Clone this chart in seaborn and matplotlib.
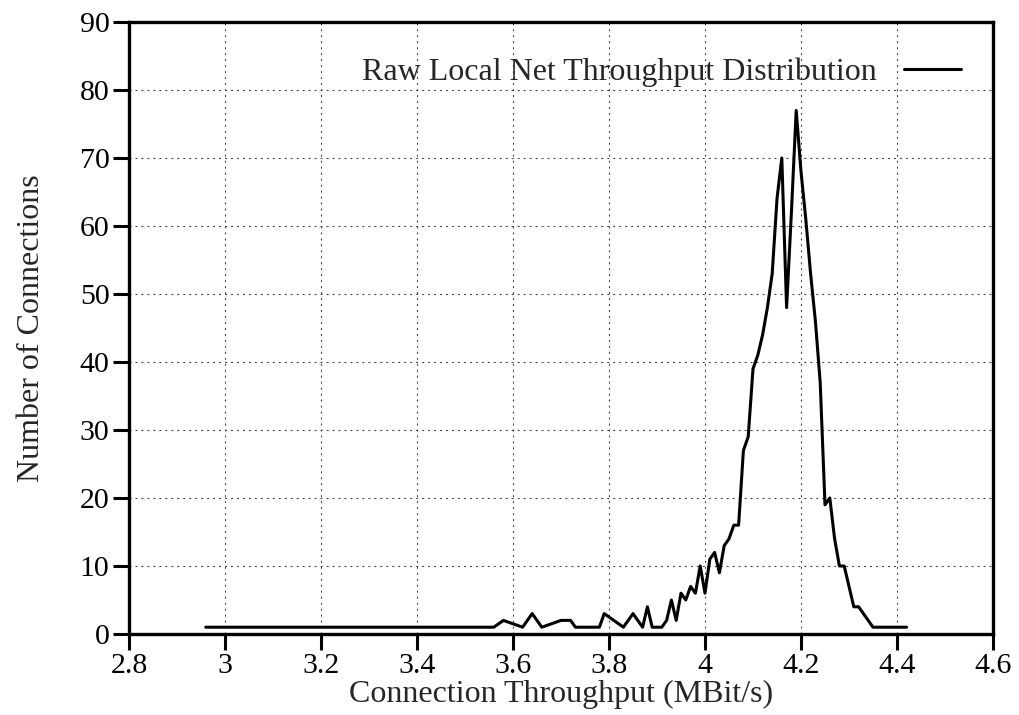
import matplotlib
matplotlib.use("Agg")
import matplotlib.pyplot as plt
import seaborn as sns
import pandas as pd

# Data
throughput = [2.96, 3.56, 3.58, 3.62, 3.64, 3.66, 3.70, 3.72, 3.73, 3.78,
              3.79, 3.83, 3.85, 3.87, 3.88, 3.89, 3.91, 3.92, 3.93, 3.94,
              3.95, 3.96, 3.97, 3.98, 3.99, 4.00, 4.01, 4.02, 4.03, 4.04,
              4.05, 4.06, 4.07, 4.08, 4.09, 4.10, 4.11, 4.12, 4.13, 4.14,
              4.15, 4.16, 4.17, 4.18, 4.19, 4.20, 4.21, 4.22, 4.23, 4.24,
              4.25, 4.26, 4.27, 4.28, 4.29, 4.30, 4.31, 4.32, 4.33, 4.34,
              4.35, 4.42]
connections = [1, 1, 2, 1, 3, 1, 2, 2, 1, 1,
               3, 1, 3, 1, 4, 1, 1, 2, 5, 2,
               6, 5, 7, 6, 10, 6, 11, 12, 9, 13,
               14, 16, 16, 27, 29, 39, 41, 44, 48, 53,
               64, 70, 48, 62, 77, 68, 61, 53, 46, 37,
               19, 20, 14, 10, 10, 7, 4, 4, 3, 2,
               1, 1]
series_label = "Raw Local Net Throughput Distribution"
x_ticks = [2.8, 3.0, 3.2, 3.4, 3.6, 3.8, 4.0, 4.2, 4.4, 4.6]
x_tick_labels = ["2.8", "3", "3.2", "3.4", "3.6", "3.8", "4", "4.2", "4.4", "4.6"]
y_ticks = [0, 10, 20, 30, 40, 50, 60, 70, 80, 90]

df = pd.DataFrame({"x": throughput, "y": connections, "s": series_label})

sns.set_style("white")
plt.rcParams["font.family"] = ["Liberation Serif", "DejaVu Serif"]
plt.rcParams["lines.scale_dashes"] = False

W, H = 1019, 715
fig = plt.figure(figsize=(W / 100, H / 100), dpi=100)
L, R, B, T = 129, 993, 634, 22
ax = fig.add_axes([L / W, 1 - B / H, (R - L) / W, (B - T) / H])

sns.lineplot(data=df, x="x", y="y", hue="s", palette=["black"], ax=ax,
             linewidth=2.2, estimator=None, sort=False)

ax.set_xlim(2.8, 4.6)
ax.set_ylim(0, 90)
ax.set_xticks(x_ticks)
ax.set_xticklabels(x_tick_labels)
ax.set_yticks(y_ticks)

fs = 21.5
fs_lab = 23
ax.tick_params(axis="both", direction="out", length=11.5, width=2.2,
               labelsize=fs, color="black", labelcolor="black", pad=2.5)
ax.tick_params(top=False, right=False, bottom=True, left=True)
for sp in ax.spines.values():
    sp.set_linewidth(2.4)
    sp.set_color("black")
    sp.set_visible(True)

ax.grid(True, color="0.25", linewidth=0.8, linestyle=(0, (1.4, 2.9)))
ax.set_axisbelow(True)

ax.set_xlabel("Connection Throughput (MBit/s)", fontsize=fs_lab, labelpad=0)
ax.set_ylabel("Number of Connections", fontsize=fs_lab, labelpad=24)

leg = ax.legend(loc="center right",
                bbox_to_anchor=((961 - L) / (R - L), (B - 72) / (B - T)),
                frameon=False, fontsize=fs_lab, markerfirst=False,
                handlelength=1.8, handletextpad=0.85, borderpad=0,
                borderaxespad=0)
for h in leg.get_lines():
    h.set_linewidth(2.2)

fig.savefig("out.png", dpi=100)
